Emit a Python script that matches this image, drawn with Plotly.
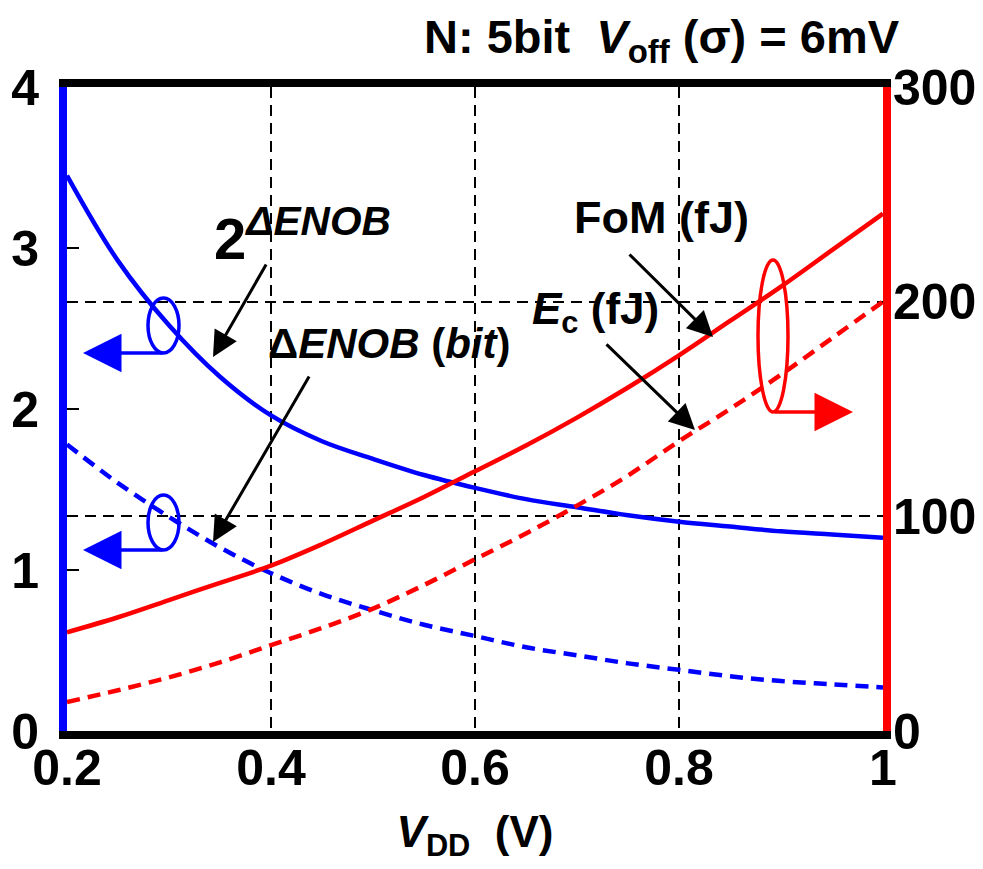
import plotly.graph_objects as go

# ---- data ----
vdd = [0.2, 0.25, 0.3, 0.35, 0.4, 0.45, 0.5, 0.55, 0.6, 0.65, 0.7, 0.75, 0.8, 0.85, 0.9, 0.95, 1.0]
pow2_enob = [3.45, 2.92, 2.52, 2.20, 1.96, 1.80, 1.69, 1.59, 1.51, 1.44, 1.39, 1.34, 1.30, 1.27, 1.24, 1.22, 1.20]
delta_enob = [1.78, 1.54, 1.33, 1.14, 0.98, 0.85, 0.75, 0.66, 0.59, 0.52, 0.47, 0.42, 0.38, 0.34, 0.31, 0.29, 0.27]
fom_fj = [46, 53, 61, 69, 77, 87, 98, 109, 121, 133, 146, 160, 175, 191, 207, 224, 241]
ec_fj = [13.5, 19, 25, 32, 40, 48, 57, 68, 80, 92, 105, 119, 135, 150, 166, 183, 200]

x_ticks = [0.2, 0.4, 0.6, 0.8, 1.0]
x_ticktext = ["0.2", "0.4", "0.6", "0.8", "1"]
yl_ticks = [0, 1, 2, 3, 4]
yr_ticks = [0, 100, 200, 300]

BLUE = "#0000FF"
RED = "#FF0000"
FONT = "Arial, Liberation Sans, sans-serif"

W, H = 983, 869
ML, MR, MT, MB = 67, 100, 87, 138
PW, PH = W - ML - MR, H - MT - MB


def px(xp):
    return (xp - ML) / PW


def py(yp):
    return (H - MB - yp) / PH


fig = go.Figure()
fig.add_trace(go.Scatter(x=vdd, y=pow2_enob, mode="lines", line=dict(color=BLUE, width=4.5, shape="spline"),
                         yaxis="y", showlegend=False))
fig.add_trace(go.Scatter(x=vdd, y=delta_enob, mode="lines",
                         line=dict(color=BLUE, width=4.5, dash="13px,8px", shape="spline"),
                         yaxis="y", showlegend=False))
fig.add_trace(go.Scatter(x=vdd, y=fom_fj, mode="lines", line=dict(color=RED, width=4.5, shape="spline"),
                         yaxis="y2", showlegend=False))
fig.add_trace(go.Scatter(x=vdd, y=ec_fj, mode="lines",
                         line=dict(color=RED, width=4.5, dash="13px,8px", shape="spline"),
                         yaxis="y2", showlegend=False))

tickfont = dict(family=FONT, size=50, color="black", weight="bold")

fig.update_layout(
    width=W, height=H,
    margin=dict(l=ML, r=MR, t=MT, b=MB, autoexpand=False),
    paper_bgcolor="white", plot_bgcolor="white",
    font=dict(family=FONT, color="black"),
    xaxis=dict(range=[0.2, 1.0], tickvals=x_ticks, ticktext=x_ticktext, tickfont=tickfont,
               showline=True, linecolor="black", linewidth=8, mirror=True, automargin=False,
               showgrid=True, gridcolor="black", gridwidth=2.2, griddash="11px,7px",
               zeroline=False, ticks="", ticklen=0, ticklabelstandoff=-14,
               title=dict(text="<i>V</i><sub>DD</sub>  (V)", font=dict(family=FONT, size=44, weight="bold"),
                          standoff=24)),
    yaxis=dict(range=[0, 4], tickvals=yl_ticks, tickfont=tickfont, automargin=False,
               showline=True, linecolor=BLUE, linewidth=8,
               showgrid=False, zeroline=False,
               ticks="inside", ticklen=12, tickwidth=2, tickcolor="black", ticklabelstandoff=10),
    yaxis2=dict(range=[0, 300], tickvals=yr_ticks, tickfont=tickfont, overlaying="y", side="right",
                showline=True, linecolor=RED, linewidth=8, automargin=False,
                showgrid=True, gridcolor="black", gridwidth=2.2, griddash="11px,7px",
                zeroline=False, ticks="", ticklen=0, ticklabelstandoff=-8),
)

# ---- decorations: ellipses ----
fig.add_shape(type="circle", xref="paper", yref="paper", x0=px(148), x1=px(179), y0=py(353), y1=py(298),
              line=dict(color=BLUE, width=3.5))
fig.add_shape(type="circle", xref="paper", yref="paper", x0=px(148), x1=px(179), y0=py(550), y1=py(495),
              line=dict(color=BLUE, width=3.5))
fig.add_shape(type="circle", xref="paper", yref="paper", x0=px(758), x1=px(788), y0=py(412), y1=py(260),
              line=dict(color=RED, width=3.5))

annots = []
# axis-pointer arrows (colored)
for hx, hy, tx, ty, col in [(83, 353, 164, 353, BLUE), (83, 550, 164, 550, BLUE), (853, 412, 773, 412, RED)]:
    annots.append(dict(xref="paper", yref="paper", x=px(hx), y=py(hy), ax=tx - hx, ay=ty - hy,
                       axref="pixel", ayref="pixel", text="", showarrow=True, arrowhead=2,
                       arrowsize=2.2, arrowwidth=3.5, arrowcolor=col))
# black label arrows
for hx, hy, tx, ty in [(213, 357, 267, 263), (213, 542, 310, 375), (713, 337, 628, 253), (695, 430, 605, 343)]:
    annots.append(dict(xref="paper", yref="paper", x=px(hx), y=py(hy), ax=tx - hx, ay=ty - hy,
                       text="", showarrow=True, arrowhead=2, arrowsize=1.7, arrowwidth=3,
                       arrowcolor="black"))

bold = lambda s: dict(family=FONT, size=s, color="black", weight="bold")
annots += [
    dict(xref="paper", yref="paper", x=px(662), y=py(40), xanchor="center", yanchor="middle", showarrow=False,
         text="N: 5bit  <i>V</i><sub>off</sub> (σ) = 6mV", font=bold(47)),
    dict(xref="paper", yref="paper", x=px(302), y=py(234), xanchor="center", yanchor="middle", showarrow=False,
         text="2<sup><i>ΔENOB</i></sup>", font=bold(58)),
    dict(xref="paper", yref="paper", x=px(389), y=py(343), xanchor="center", yanchor="middle", showarrow=False,
         text="Δ<i>ENOB</i> (<i>bit</i>)", font=bold(42)),
    dict(xref="paper", yref="paper", x=px(661), y=py(217), xanchor="center", yanchor="middle", showarrow=False,
         text="FoM (fJ)", font=bold(45)),
    dict(xref="paper", yref="paper", x=px(595), y=py(312), xanchor="center", yanchor="middle", showarrow=False,
         text="<i>E</i><sub>c</sub> (fJ)", font=bold(44)),
]
fig.update_layout(annotations=annots)

fig.write_html("out.html")
